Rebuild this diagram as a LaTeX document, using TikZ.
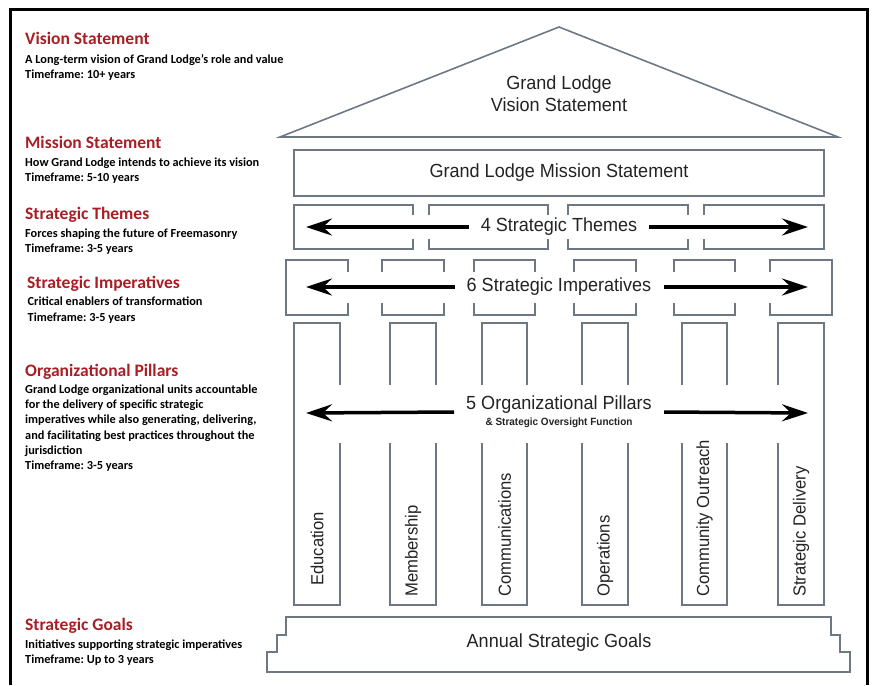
\documentclass[tikz,border=0pt]{standalone}
\usepackage{fontspec}
\setmainfont{Carlito}
\newfontfamily\archfont[FakeStretch=0.95]{Liberation Sans}
\usetikzlibrary{arrows.meta}
\definecolor{headred}{RGB}{168,30,36}
\definecolor{wallgray}{RGB}{110,120,132}
\definecolor{inkgray}{RGB}{35,35,35}
\frenchspacing

\tikzset{
  wall/.style={draw=wallgray, line width=1.6pt},
  archtext/.style={font=\archfont\fontsize{19}{22}\selectfont, text=inkgray},
  pillartext/.style={font=\archfont\fontsize{17.5}{20}\selectfont, text=inkgray, rotate=90, anchor=west, inner sep=0pt},
  bigarrow/.style={line width=3.5pt, -{Stealth[length=26pt,width=17pt,inset=9pt]}},
  head/.style={font=\bfseries\fontsize{17.5}{20}\selectfont, text=headred, anchor=base west, inner sep=0pt},
  body/.style={font=\bfseries\fontsize{12.3}{15.3}\selectfont, align=left, anchor=north west, inner sep=0pt}
}

\begin{document}
\begin{tikzpicture}[x=1pt,y=-1pt]
  \useasboundingbox (0,0) rectangle (872,685);

  % Frame
  \draw[line width=3pt] (10,685) -- (10,10) -- (867,10) -- (867,685);

  % Left column: level names and time frames
  \node[head] (visionhead) at (25,45) {Vision Statement};
  \node[body] (visionbody) at (25,54.3) {A Long-term vision of Grand Lodge’s role and value\\Timeframe: 10+ years};

  \node[head] (missionhead) at (25,148.3) {Mission Statement};
  \node[body] (missionbody) at (25,157.7) {How Grand Lodge intends to achieve its vision\\Timeframe: 5-10 years};

  \node[head] (themeshead) at (25,219.3) {Strategic Themes};
  \node[body] (themesbody) at (25,228.3) {Forces shaping the future of Freemasonry\\Timeframe: 3-5 years};

  \node[head] (imphead) at (27,288.3) {Strategic Imperatives};
  \node[body] (impbody) at (27.5,297) {Critical enablers of transformation\\Timeframe: 3-5 years};

  \node[head] (pillarshead) at (25,376.7) {Organizational Pillars};
  \node[body] (pillarsbody) at (25,384.3) {Grand Lodge organizational units accountable\\for the delivery of specific strategic\\imperatives while also generating, delivering,\\and facilitating best practices throughout the\\jurisdiction\\Timeframe: 3-5 years};

  \node[head] (goalshead) at (25,630) {Strategic Goals};
  \node[body] (goalsbody) at (25,639.3) {Initiatives supporting strategic imperatives\\Timeframe: Up to 3 years};

  % Roof
  \draw[wall] (280,137) -- (559,27) -- (838,137) -- cycle;
  \node[archtext, align=center] (vision) at (559,94) {Grand Lodge\\Vision Statement};

  % Mission band
  \draw[wall] (294,150) rectangle (824,196);
  \node[archtext] (mission) at (559,173) {Grand Lodge Mission Statement};

  % Themes: open joints between blocks
  \def\ttop{205}
  \def\tbot{249}
  \def\tstub{10}
  \foreach \xl/\xr in {294/413, 429/548, 568/688, 704/824} {
    \draw[wall] (\xl,\ttop+\tstub) -- (\xl,\ttop) -- (\xr,\ttop) -- (\xr,\ttop+\tstub);
    \draw[wall] (\xl,\tbot-\tstub) -- (\xl,\tbot) -- (\xr,\tbot) -- (\xr,\tbot-\tstub);
  }
  \draw[wall] (294,\ttop) -- (294,\tbot);
  \draw[wall] (824,\ttop) -- (824,\tbot);
  \node[archtext, inner xsep=12pt] (themes) at (559,227) {4 Strategic Themes};
  \coordinate (themesleft) at (306,227);
  \coordinate (themesright) at (808,227);
  \draw[bigarrow] (themes.west) -- (themesleft);
  \draw[bigarrow] (themes.east) -- (themesright);

  % Imperatives
  \def\itop{260}
  \def\ibot{315}
  \def\istub{12}
  \foreach \xl/\xr in {286/348, 382/444, 474/535, 574/636, 674/735, 770/832} {
    \draw[wall] (\xl,\itop+\istub) -- (\xl,\itop) -- (\xr,\itop) -- (\xr,\itop+\istub);
    \draw[wall] (\xl,\ibot-\istub) -- (\xl,\ibot) -- (\xr,\ibot) -- (\xr,\ibot-\istub);
  }
  \draw[wall] (286,\itop) -- (286,\ibot);
  \draw[wall] (832,\itop) -- (832,\ibot);
  \node[archtext, inner xsep=12pt] (imperatives) at (559,287) {6 Strategic Imperatives};
  \coordinate (impleft) at (306,287);
  \coordinate (impright) at (808,287);
  \draw[bigarrow] (imperatives.west) -- (impleft);
  \draw[bigarrow] (imperatives.east) -- (impright);

  % Pillars
  \def\ptop{323}
  \def\pbot{605}
  \def\pgaptop{385}
  \def\pgapbot{443}
  \foreach \xl/\xr/\pname/\pstart/\ptext in {294/340/edu/586/Education, 390/436/mem/597/Membership,
      482/527/com/597/Communications, 582/628/ops/597/Operations,
      682/727/out/597/Community Outreach, 778/824/del/597/Strategic Delivery} {
    \draw[wall] (\xl,\pgaptop) -- (\xl,\ptop) -- (\xr,\ptop) -- (\xr,\pgaptop);
    \draw[wall] (\xl,\pgapbot) -- (\xl,\pbot) -- (\xr,\pbot) -- (\xr,\pgapbot);
    \node[pillartext] (\pname) at ({(\xl+\xr)/2},\pstart) {\ptext};
  }
  \draw[wall] (294,\ptop) -- (294,\pbot);
  \draw[wall] (824,\ptop) -- (824,\pbot);
  \node[archtext, align=center, inner xsep=12pt] (pillars) at (559,412)
    {5 Organizational Pillars\\[-6pt]{\bfseries\fontsize{10.5}{12}\selectfont \& Strategic Oversight Function}};
  \coordinate (pillarsleft) at (306,413);
  \coordinate (pillarsright) at (808,413);
  \draw[bigarrow] (pillars.west) -- (pillarsleft);
  \draw[bigarrow] (pillars.east) -- (pillarsright);

  % Stepped base
  \draw[wall] (286,617) -- (831,617) -- (831,635) -- (840,635) -- (840,652) -- (850,652)
    -- (850,672) -- (267,672) -- (267,652) -- (277,652) -- (277,635) -- (286,635) -- cycle;
  \node[archtext] (goals) at (559,643) {Annual Strategic Goals};

\end{tikzpicture}
\end{document}
